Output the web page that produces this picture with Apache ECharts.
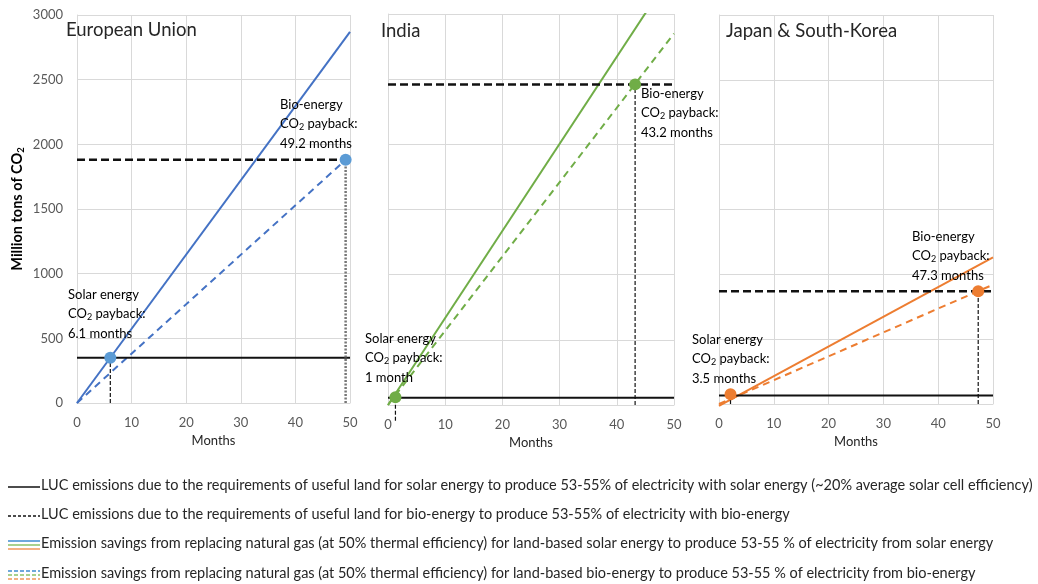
<!DOCTYPE html>
<html>
<head>
<meta charset="utf-8">
<script src="https://cdn.jsdelivr.net/npm/echarts@6/dist/echarts.min.js"></script>
<style>html,body{margin:0;padding:0;background:#fff}#c{width:1038px;height:584px}</style>
</head>
<body>
<div id="c"></div>
<script>
// ---- data (million tons of CO2 vs months) ----
const panelNames = ['European Union', 'India', 'Japan & South-Korea'];
const monthRange = [0, 50];
const yTicks = [0, 500, 1000, 1500, 2000, 2500, 3000];
// LUC emissions (horizontal reference levels)
const lucSolar = [350, 55, 65];
const lucBio = [1880, 2460, 870];
// payback points as drawn
const solarPaybackMonth = [6.1, 1.3, 2.1];
const solarPaybackValue = [350, 60, 75];
const solarVerticalBottom = [0, -120, 0];
const bioPaybackMonth = [49.2, 43.2, 47.3];
const bioPaybackValue = [1880, 2460, 870];
// emission-savings lines: value at month 0 and at month 50
const solarSavingsStart = [0, 0, -15];
const solarSavingsEnd = [2870, 3340, 1130];
const bioSavingsStart = [0, 0, 0];
const bioSavingsEnd = [1910, 2850, 920];
// annotation texts
const bioPaybackText = ['49.2 months', '43.2 months', '47.3 months'];
const solarPaybackText = ['6.1 months', '1 month', '3.5 months'];
const legendTexts = [
  'LUC emissions due to the requirements of useful land for solar energy to produce 53-55% of electricity with solar energy (~20% average solar cell efficiency)',
  'LUC emissions due to the requirements of useful land for bio-energy to produce 53-55% of electricity with bio-energy',
  'Emission savings from replacing natural gas (at 50% thermal efficiency) for land-based solar energy to produce 53-55 % of electricity from solar energy',
  'Emission savings from replacing natural gas (at 50% thermal efficiency) for land-based bio-energy to produce 53-55 % of electricity from bio-energy'
];

// ---- styling ----
const FONT = 'Lato';
const lineColors = ['#4472C4', '#70AD47', '#ED7D31'];
const markerColors = ['#5B9BD5', '#70AD47', '#ED7D31'];
const lightColors = ['#6FA8DC', '#A9D18E', '#F4B183'];
const grids = [
  {left: 77, top: 15, width: 273, height: 388},
  {left: 388, top: 14, width: 286, height: 391},
  {left: 719, top: 15, width: 274, height: 389}
];
const titlePos = [[66, 21], [381, 22], [726, 22]];
const bioTextPos = [[280, 98], [641, 87], [912, 230]];
const solarTextPos = [[68, 288], [365, 332], [692, 333]];

const gridCol = '#d9d9d9';
const xAxes = [], yAxes = [], series = [], graphics = [];

const richBase = {
  t: {fontFamily: FONT, fontSize: 13, color: '#404040', lineHeight: 19.5},
  s: {fontFamily: FONT, fontSize: 9, color: '#404040', lineHeight: 19.5, padding: [7, 0, 0, 0]}
};

panelNames.forEach((name, i) => {
  xAxes.push({
    gridIndex: i, type: 'value', min: monthRange[0], max: monthRange[1], interval: 10,
    axisLine: {lineStyle: {color: gridCol}}, axisTick: {show: false},
    axisLabel: {color: '#595959', fontSize: 13, fontFamily: FONT, margin: 13},
    splitLine: {show: true, lineStyle: {color: gridCol}},
    name: 'Months', nameLocation: 'middle', nameGap: 29,
    nameTextStyle: {color: '#262626', fontSize: 13, fontFamily: FONT}
  });
  yAxes.push({
    gridIndex: i, type: 'value', min: yTicks[0], max: yTicks[yTicks.length - 1], interval: yTicks[1] - yTicks[0],
    axisLine: {show: true, lineStyle: {color: gridCol}}, axisTick: {show: false},
    axisLabel: {show: i === 0, color: '#595959', fontSize: 13, fontFamily: FONT, margin: 14,
      formatter: v => String(v)},
    splitLine: {show: true, lineStyle: {color: gridCol}},
    name: i === 0 ? 'Million tons of CO{s|2}' : '', nameLocation: 'middle', nameGap: 51,
    nameTextStyle: {color: '#000', fontSize: 14.5, fontWeight: 'bold', fontFamily: FONT,
      rich: {s: {fontSize: 9.5, fontWeight: 'bold', color: '#000', padding: [7, 0, 0, 0]}}}
  });
  const ax = {xAxisIndex: i, yAxisIndex: i, symbol: 'none', silent: true, animation: false};
  // savings lines
  series.push(Object.assign({type: 'line', clip: i !== 2,
    data: [[monthRange[0], solarSavingsStart[i]], [monthRange[1], solarSavingsEnd[i]]],
    lineStyle: {color: lineColors[i], width: 2}}, ax));
  series.push(Object.assign({type: 'line', clip: i !== 2,
    data: [[monthRange[0], bioSavingsStart[i]], [monthRange[1], bioSavingsEnd[i]]],
    lineStyle: {color: lineColors[i], width: 2, type: [7, 5]}}, ax));
  // LUC levels
  series.push(Object.assign({type: 'line',
    data: [[monthRange[0], lucSolar[i]], [monthRange[1], lucSolar[i]]],
    lineStyle: {color: '#111', width: 2}}, ax));
  series.push(Object.assign({type: 'line',
    data: [[monthRange[0], lucBio[i]], [monthRange[1], lucBio[i]]],
    lineStyle: {color: '#111', width: 2.5, type: [8, 4]}}, ax));
  // verticals
  series.push(Object.assign({type: 'line', clip: false,
    data: [[solarPaybackMonth[i], solarVerticalBottom[i]], [solarPaybackMonth[i], solarPaybackValue[i]]],
    lineStyle: {color: '#111', width: 1.2, type: [4, 2]}}, ax));
  series.push(Object.assign({type: 'line',
    data: [[bioPaybackMonth[i], 0], [bioPaybackMonth[i], bioPaybackValue[i]]],
    lineStyle: i === 0 ? {color: '#777', width: 2.5, type: [2, 1.5]} : {color: '#111', width: 1.2, type: [4, 2]}}, ax));
  // markers
  series.push({type: 'scatter', xAxisIndex: i, yAxisIndex: i, silent: true, animation: false,
    symbolSize: 12, itemStyle: {color: markerColors[i], opacity: 1}, z: 5,
    data: [[solarPaybackMonth[i], solarPaybackValue[i]], [bioPaybackMonth[i], bioPaybackValue[i]]]});

  // titles and annotations
  graphics.push({type: 'text', left: titlePos[i][0], top: titlePos[i][1], z: 100,
    style: {text: name, fontFamily: FONT, fontSize: 18.5, fill: '#262626'}});
  graphics.push({type: 'text', left: bioTextPos[i][0], top: bioTextPos[i][1], z: 100,
    style: {text: '{t|Bio-energy}\n{t|CO}{s|2}{t| payback:}\n{t|' + bioPaybackText[i] + '}', rich: richBase}});
  graphics.push({type: 'text', left: solarTextPos[i][0], top: solarTextPos[i][1], z: 100,
    style: {text: '{t|Solar energy}\n{t|CO}{s|2}{t| payback:}\n{t|' + solarPaybackText[i] + '}', rich: richBase}});
});

// legend (drawn)
const legY = [487, 516, 545, 575];
graphics.push({type: 'line', z: 100, shape: {x1: 8, y1: legY[0], x2: 40, y2: legY[0]}, style: {stroke: '#111', lineWidth: 1.5}});
graphics.push({type: 'line', z: 100, shape: {x1: 8, y1: legY[1], x2: 40, y2: legY[1]}, style: {stroke: '#111', lineWidth: 1.5, lineDash: [3, 2]}});
[-4, 0, 4].forEach((d, k) => {
  graphics.push({type: 'line', z: 100, shape: {x1: 8, y1: legY[2] + d, x2: 40, y2: legY[2] + d}, style: {stroke: lightColors[k], lineWidth: 2}});
  graphics.push({type: 'line', z: 100, shape: {x1: 8, y1: legY[3] + d, x2: 40, y2: legY[3] + d}, style: {stroke: lightColors[k], lineWidth: 2, lineDash: [4, 2]}});
});
legendTexts.forEach((t, k) => {
  graphics.push({type: 'text', z: 100, left: 41, top: legY[k] - 9,
    style: {text: t, fontFamily: FONT, fontSize: 14.5, fill: '#262626'}});
});

const chart = echarts.init(document.getElementById('c'), null, {renderer: 'canvas'});
chart.setOption({
  animation: false,
  textStyle: {fontFamily: FONT},
  grid: grids,
  xAxis: xAxes,
  yAxis: yAxes,
  series: series,
  graphic: graphics
});
</script>
</body>
</html>
